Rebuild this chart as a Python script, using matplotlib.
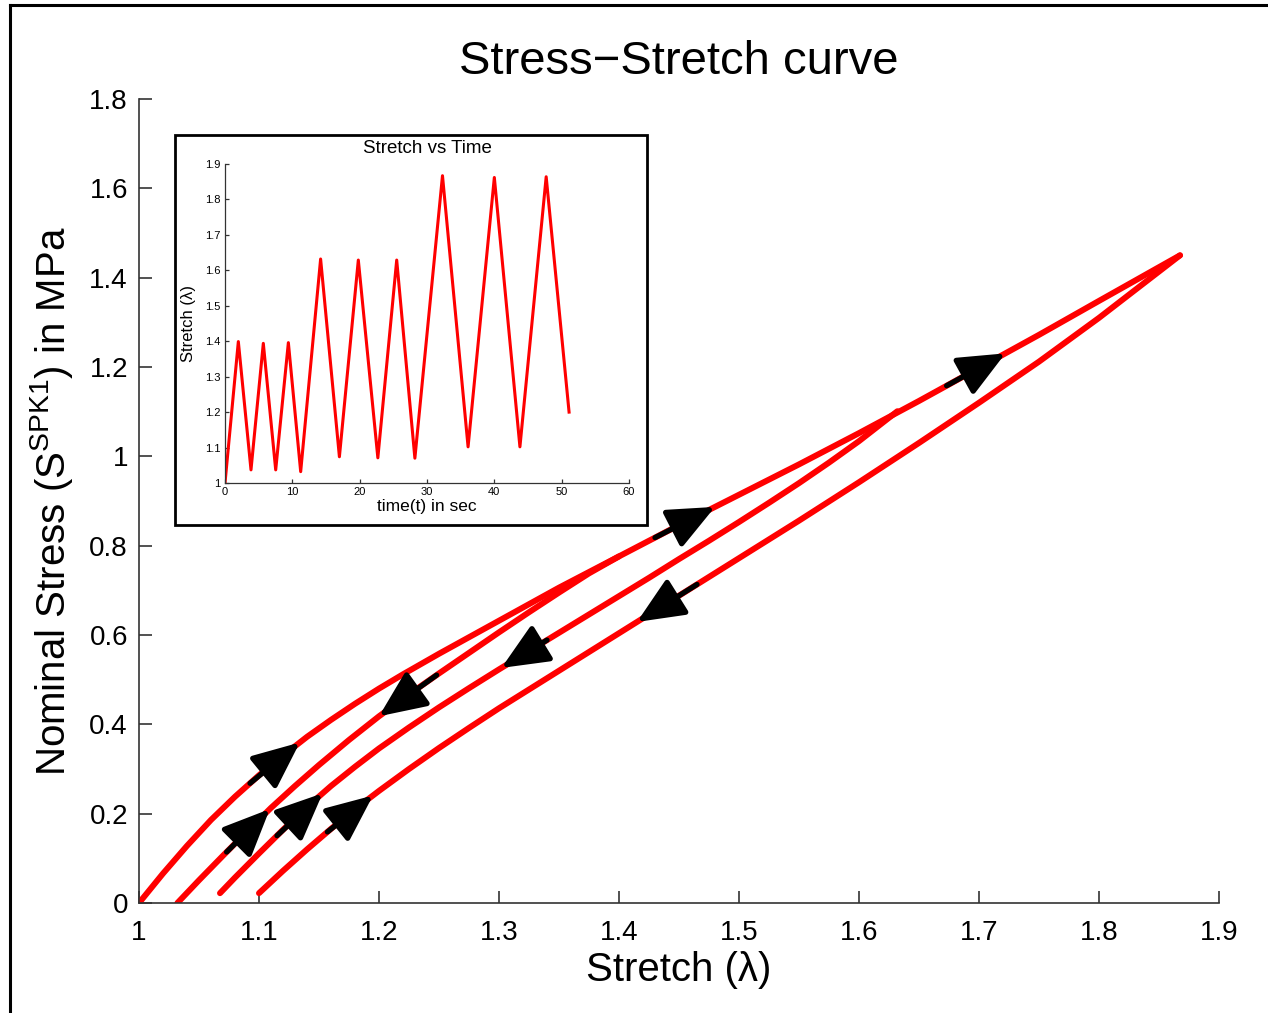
import numpy as np
import matplotlib
matplotlib.use("Agg")
import matplotlib.pyplot as plt
from matplotlib.patches import FancyArrowPatch, Rectangle
from matplotlib.lines import Line2D

plt.rcParams['font.family'] = ['Liberation Sans', 'DejaVu Sans']
plt.rcParams['mathtext.default'] = 'regular'

# --- stress-stretch branches (stretch, nominal stress in MPa) ---
primary_x = [1.0, 1.02, 1.04, 1.06, 1.08, 1.10, 1.12, 1.14, 1.16, 1.18, 1.20, 1.22,
             1.25, 1.30, 1.35, 1.40, 1.45, 1.50, 1.55, 1.60, 1.65, 1.70, 1.75, 1.80, 1.8675]
primary_y = [0.0, 0.066, 0.128, 0.186, 0.238, 0.286, 0.33, 0.372, 0.41, 0.446, 0.48, 0.512,
             0.558, 0.632, 0.706, 0.776, 0.846, 0.914, 0.982, 1.052, 1.124, 1.198, 1.272,
             1.348, 1.45]

cycle1_x = [1.032, 1.05, 1.07, 1.09, 1.11, 1.13, 1.15, 1.175, 1.20, 1.225, 1.25, 1.275,
            1.30, 1.325, 1.35, 1.375, 1.40]
cycle1_y = [0.0, 0.051, 0.106, 0.16, 0.213, 0.262, 0.309, 0.365, 0.418, 0.467, 0.514, 0.56,
            0.606, 0.651, 0.695, 0.738, 0.776]

cycle2_x = [1.0675, 1.08, 1.10, 1.12, 1.14, 1.16, 1.18, 1.20, 1.225, 1.25, 1.275, 1.30,
            1.325, 1.35, 1.375, 1.40, 1.425, 1.45, 1.475, 1.50, 1.525, 1.55, 1.575, 1.60, 1.632]
cycle2_y = [0.022, 0.057, 0.111, 0.164, 0.215, 0.262, 0.305, 0.346, 0.393, 0.438, 0.481, 0.523,
            0.564, 0.605, 0.646, 0.687, 0.728, 0.77, 0.811, 0.853, 0.896, 0.94, 0.986, 1.034, 1.101]

cycle3_x = [1.10, 1.12, 1.14, 1.16, 1.18, 1.20, 1.225, 1.25, 1.275, 1.30, 1.325, 1.35,
            1.375, 1.40, 1.425, 1.45, 1.50, 1.55, 1.60, 1.65, 1.70, 1.75, 1.80, 1.8675]
cycle3_y = [0.022, 0.072, 0.12, 0.166, 0.21, 0.251, 0.3, 0.347, 0.392, 0.436, 0.478, 0.52,
            0.562, 0.604, 0.646, 0.688, 0.772, 0.856, 0.942, 1.03, 1.12, 1.212, 1.31, 1.45]

# direction arrows: (branch, stretch at tail, stretch at tip)
arrow_branch = ['primary', 'primary', 'primary', 'c1', 'c1', 'c2', 'c2', 'c3', 'c3']
arrow_tail = [1.0925, 1.43, 1.673, 1.073, 1.248, 1.115, 1.34, 1.157, 1.465]
arrow_tip = [1.134, 1.48, 1.722, 1.109, 1.20, 1.153, 1.302, 1.195, 1.415]

# --- inset: stretch history ---
time_s = [0, 1.98, 3.86, 5.69, 7.53, 9.41, 11.24, 14.2, 16.99, 19.8, 22.7, 25.5,
          28.2, 32.3, 36.1, 40.0, 43.8, 47.7, 51.1]
stretch_t = [1.0, 1.399, 1.037, 1.394, 1.037, 1.396, 1.032, 1.632, 1.074, 1.629, 1.071,
             1.629, 1.07, 1.867, 1.102, 1.862, 1.102, 1.864, 1.2]

x_ticks = [1, 1.1, 1.2, 1.3, 1.4, 1.5, 1.6, 1.7, 1.8, 1.9]
x_ticklabels = ['1', '1.1', '1.2', '1.3', '1.4', '1.5', '1.6', '1.7', '1.8', '1.9']
y_ticks = [0, 0.2, 0.4, 0.6, 0.8, 1.0, 1.2, 1.4, 1.6, 1.8]
y_ticklabels = ['0', '0.2', '0.4', '0.6', '0.8', '1', '1.2', '1.4', '1.6', '1.8']
in_x_ticks = [0, 10, 20, 30, 40, 50, 60]
in_y_ticks = [1, 1.1, 1.2, 1.3, 1.4, 1.5, 1.6, 1.7, 1.8, 1.9]
in_y_ticklabels = ['1', '1.1', '1.2', '1.3', '1.4', '1.5', '1.6', '1.7', '1.8', '1.9']

W, H = 1268, 1013
fig = plt.figure(figsize=(W / 100, H / 100), dpi=100)

def fx(px):
    return px / W

def fy(py):
    return 1 - py / H

spine_col = '#333333'

# main axes
ax = fig.add_axes([fx(139), fy(903), fx(1219) - fx(139), fy(99) - fy(903)])
branches = {'primary': (primary_x, primary_y), 'c1': (cycle1_x, cycle1_y),
            'c2': (cycle2_x, cycle2_y), 'c3': (cycle3_x, cycle3_y)}
for key, (bx, by) in branches.items():
    ax.plot(bx, by, color='#ff0000', lw=4.3, solid_capstyle='round',
            solid_joinstyle='round', zorder=2)

for b, xa, xb in zip(arrow_branch, arrow_tail, arrow_tip):
    bx, by = branches[b]
    ya = np.interp(xa, bx, by)
    yb = np.interp(xb, bx, by)
    arr = FancyArrowPatch((xa, ya), (xb, yb), arrowstyle='-|>,head_length=1.25,head_width=0.55',
                          mutation_scale=23, lw=3.8, color='black', shrinkA=0, shrinkB=0,
                          zorder=3)
    ax.add_patch(arr)

ax.set_xlim(1, 1.9)
ax.set_ylim(0, 1.8)
ax.set_xticks(x_ticks)
ax.set_xticklabels(x_ticklabels)
ax.set_yticks(y_ticks)
ax.set_yticklabels(y_ticklabels)
for s in ['top', 'right']:
    ax.spines[s].set_visible(False)
for s in ['left', 'bottom']:
    ax.spines[s].set_color(spine_col)
    ax.spines[s].set_linewidth(1.2)
ax.tick_params(direction='in', length=9, width=1.2, color=spine_col, labelsize=20)
ax.tick_params(axis='x', pad=12)
ax.tick_params(axis='y', pad=8)
ax.set_xlabel('Stretch (λ)', fontsize=29, labelpad=4)
ax.set_ylabel('Nominal Stress (S$^{SPK1}$) in MPa', fontsize=29, labelpad=10)
ax.set_title('Stress\u2212Stretch curve', fontsize=34, pad=18)

# inset
fig.add_artist(Rectangle((fx(175), fy(525)), fx(647) - fx(175), fy(135) - fy(525),
                         transform=fig.transFigure, facecolor='white', edgecolor='black',
                         lw=2, zorder=4))
ins = fig.add_axes([fx(225), fy(483), fx(629) - fx(225), fy(164) - fy(483)], zorder=5)
ins.patch.set_alpha(0)
ins.plot(time_s, stretch_t, color='#ff0000', lw=2.2)
ins.set_xlim(0, 60)
ins.set_ylim(1, 1.9)
ins.set_xticks(in_x_ticks)
ins.set_yticks(in_y_ticks)
ins.set_yticklabels(in_y_ticklabels)
for s in ['top', 'right']:
    ins.spines[s].set_visible(False)
for s in ['left', 'bottom']:
    ins.spines[s].set_color(spine_col)
    ins.spines[s].set_linewidth(0.9)
ins.tick_params(direction='in', length=3, width=0.9, color=spine_col, labelsize=8, pad=3)
ins.set_xlabel('time(t) in sec', fontsize=12.5, labelpad=1)
ins.set_ylabel('Stretch (λ)', fontsize=12, labelpad=7)
ins.set_title('Stretch vs Time', fontsize=13.5, pad=8)

# outer frame (left and top edges visible)
fig.add_artist(Line2D([fx(10), fx(10)], [0, fy(5)], transform=fig.transFigure,
                      color='black', lw=2.2))
fig.add_artist(Line2D([fx(10), 1], [fy(5), fy(5)], transform=fig.transFigure,
                      color='black', lw=2.2))

fig.savefig('out.png', dpi=100)
